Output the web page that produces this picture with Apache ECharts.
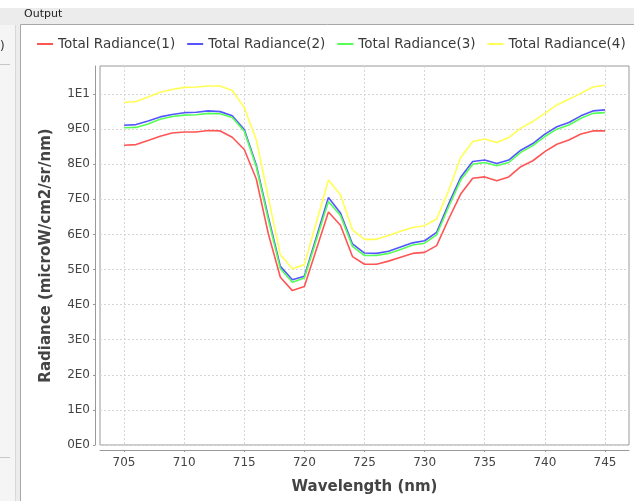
<!DOCTYPE html>
<html>
<head>
<meta charset="utf-8">
<script src="https://cdn.jsdelivr.net/npm/echarts@6/dist/echarts.min.js"></script>
<style>
html,body{margin:0;padding:0;background:#f0f0f0;}
#c{width:634px;height:501px;}
</style>
</head>
<body>
<div id="c"></div>
<script>
const wavelengths = [705,706,707,708,709,710,711,712,713,714,715,716,717,718,719,720,721,722,723,724,725,726,727,728,729,730,731,732,733,734,735,736,737,738,739,740,741,742,743,744,745];
const radiance1 = [8.54,8.56,8.68,8.80,8.89,8.92,8.92,8.96,8.95,8.77,8.42,7.58,6.02,4.78,4.40,4.52,5.58,6.64,6.26,5.37,5.15,5.15,5.24,5.35,5.46,5.49,5.68,6.44,7.15,7.60,7.64,7.53,7.64,7.93,8.10,8.36,8.57,8.69,8.86,8.95,8.95];
const radiance2 = [9.11,9.13,9.23,9.35,9.42,9.47,9.48,9.52,9.50,9.38,8.99,7.98,6.50,5.09,4.71,4.81,5.93,7.05,6.61,5.73,5.47,5.46,5.52,5.64,5.76,5.82,6.06,6.87,7.63,8.08,8.12,8.02,8.12,8.40,8.59,8.86,9.07,9.19,9.38,9.52,9.55];
const radiance3 = [9.04,9.05,9.15,9.28,9.36,9.40,9.41,9.45,9.44,9.33,8.94,7.93,6.42,5.02,4.64,4.76,5.85,6.94,6.54,5.66,5.40,5.40,5.46,5.57,5.70,5.75,5.99,6.79,7.55,8.00,8.05,7.96,8.05,8.34,8.53,8.79,9.00,9.12,9.31,9.45,9.47];
const radiance4 = [9.76,9.79,9.92,10.05,10.13,10.19,10.20,10.23,10.23,10.10,9.62,8.70,7.05,5.42,5.02,5.14,6.35,7.55,7.13,6.13,5.86,5.86,5.97,6.09,6.20,6.25,6.44,7.25,8.19,8.65,8.72,8.62,8.76,9.03,9.22,9.45,9.69,9.85,10.02,10.20,10.25];
const seriesNames = ['Total Radiance(1)','Total Radiance(2)','Total Radiance(3)','Total Radiance(4)'];
const seriesColors = ['#ff5555','#5555ff','#55ff55','#ffff55'];
const xTicks = [705,710,715,720,725,730,735,740,745];
const yTicks = [0,1,2,3,4,5,6,7,8,9,10];
const yTickLabels = ['0E0','1E0','2E0','3E0','4E0','5E0','6E0','7E0','8E0','9E0','1E1'];

const allSeries = [radiance1, radiance2, radiance3, radiance4];
const chart = echarts.init(document.getElementById('c'), null, {renderer:'canvas'});
const FONT = 'DejaVu Sans';
chart.setOption({
  backgroundColor: '#f0f0f0',
  animation: false,
  graphic: [
    {type:'rect', shape:{x:0,y:0,width:634,height:8}, style:{fill:'#ffffff'}, z:-10},
    {type:'rect', shape:{x:0,y:8,width:634,height:493}, style:{fill:'#ececec'}, z:-10},
    {type:'rect', shape:{x:0,y:25,width:15,height:476}, style:{fill:'#f5f5f5'}, z:-9},
    {type:'line', shape:{x1:15.5,y1:25,x2:15.5,y2:501}, style:{stroke:'#d8d8d8',lineWidth:1}, z:-8},
    {type:'line', shape:{x1:0,y1:64.5,x2:10,y2:64.5}, style:{stroke:'#c8c8c8',lineWidth:1}, z:-8},
    {type:'line', shape:{x1:0,y1:457.5,x2:10,y2:457.5}, style:{stroke:'#c8c8c8',lineWidth:1}, z:-8},
    {type:'text', left:0, top:41, style:{text:')', fill:'#333', font:'12px '+FONT}, z:-8},
    {type:'rect', shape:{x:20.5,y:24.5,width:620,height:480}, style:{fill:'#ffffff',stroke:'#a8a8a8',lineWidth:1}, z:-7},
    {type:'text', left:24, top:9, style:{text:'Output', fill:'#222', font:'11px '+FONT}, z:-6}
  ],
  legend: {
    left: 32, top: 32, width: 620, padding: 5,
    icon: 'rect',
    itemWidth: 16, itemHeight: 2, itemGap: 12,
    textStyle: {fontFamily: FONT, fontSize: 13.5, color: '#3a3a3a'},
    data: seriesNames
  },
  grid: {left:100, top:66, right:5, bottom:56, show:true, borderColor:'#999', borderWidth:1, backgroundColor:'#ffffff'},
  xAxis: {
    type:'value', min:703, max:747, offset:5,
    name:'Wavelength (nm)', nameLocation:'middle', nameGap:30,
    nameTextStyle:{fontFamily:FONT, fontSize:15, fontWeight:'bold', color:'#444'},
    axisLine:{show:true, onZero:false, lineStyle:{color:'#999'}},
    axisTick:{show:true, length:2, customValues:xTicks, lineStyle:{color:'#999'}},
    axisLabel:{customValues:xTicks, margin:7, fontFamily:FONT, fontSize:12, color:'#444'},
    splitLine:{show:true, lineStyle:{color:'#d6d6d6', type:[2,2]}}
  },
  yAxis: {
    type:'value', min:0, max:10.8, offset:5,
    name:'Radiance (microW/cm2/sr/nm)', nameLocation:'middle', nameGap:41,
    nameTextStyle:{fontFamily:FONT, fontSize:15, fontWeight:'bold', color:'#444'},
    axisLine:{show:true, onZero:false, lineStyle:{color:'#999'}},
    axisTick:{show:true, length:2, customValues:yTicks, lineStyle:{color:'#999'}},
    axisLabel:{customValues:yTicks, margin:5, fontFamily:FONT, fontSize:12, color:'#444',
      formatter: v => { const i = yTicks.indexOf(v); return i>=0 ? yTickLabels[i] : ''; }},
    splitLine:{show:true, lineStyle:{color:'#d6d6d6', type:[2,2]}}
  },
  series: allSeries.map((arr,i)=>({
    name: seriesNames[i], type:'line', symbol:'none', smooth:false,
    color: seriesColors[i],
    itemStyle:{color:seriesColors[i]},
    lineStyle:{width:1.6, color:seriesColors[i]},
    data: wavelengths.map((w,j)=>[w, arr[j]])
  }))
});
</script>
</body>
</html>
